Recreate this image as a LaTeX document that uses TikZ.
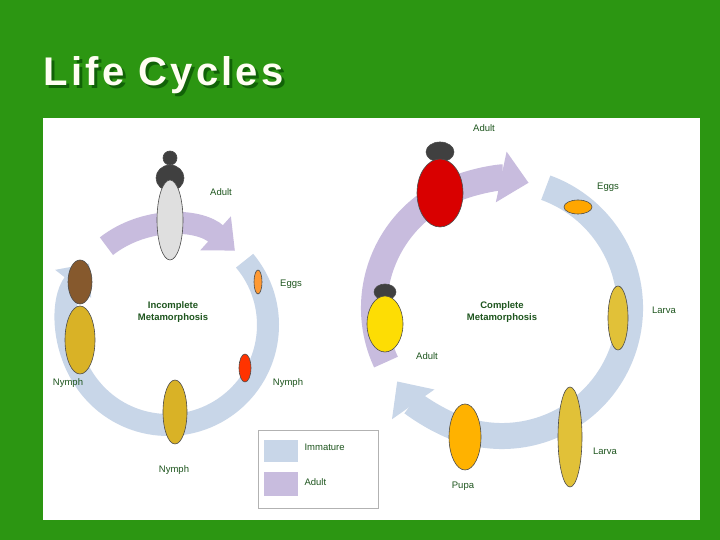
\documentclass[tikz,border=0pt]{standalone}
\usepackage{fontspec}
\setmainfont{Liberation Sans}
\newfontfamily\titlefont[LetterSpace=8]{Liberation Sans}
\usetikzlibrary{arrows.meta}
\definecolor{slidegreen}{RGB}{44,150,18}
\definecolor{immature}{RGB}{200,214,232}
\definecolor{adultc}{RGB}{200,188,222}
\definecolor{labelgreen}{RGB}{30,85,30}
\tikzset{
  lbl/.style={text=labelgreen,font=\fontsize{9.5}{11}\selectfont},
  ttl/.style={text=labelgreen,font=\bfseries\fontsize{9.5}{11.5}\selectfont,align=center},
  bug/.style={draw=black!70,line width=0.6pt},
  titlestyle/.style={anchor=west,font=\titlefont\bfseries\fontsize{40}{46}\selectfont},
}
\begin{document}
\begin{tikzpicture}[x=1pt,y=1pt]
\useasboundingbox (0,0) rectangle (720,540);
\fill[slidegreen] (0,0) rectangle (720,540);
\fill[white] (43,20) rectangle (700,422);
% title
\node[titlestyle,text=green!25!black,opacity=0.6] (titleshadow) at (43,462) {Life Cycles};
\node[titlestyle,text=white!95!yellow] (title) at (40,465) {Life Cycles};

% incomplete ring
\draw[immature,line width=22pt,-{Triangle[width=44pt,length=26pt]}]
  (168,215) ++(40:100) arc (40:-218:100);
\draw[adultc,line width=22pt,-{Triangle[width=44pt,length=26pt]}]
  (168,215) ++(128:100) arc (128:48:100);
% complete ring
\draw[adultc,line width=26pt,-{Triangle[width=50pt,length=28pt]}]
  (502,232) ++(205:128) arc (205:78:128);
\draw[immature,line width=26pt,-{Triangle[width=50pt,length=28pt]}]
  (502,232) ++(70:128) arc (70:-145:128);

% bugs
\filldraw[bug,fill=black!75] (170,382) circle (7);
\filldraw[bug,fill=black!75] (170,362) ellipse (14 and 13);
\filldraw[bug,fill=gray!25] (170,320) ellipse (13 and 40);
\filldraw[bug,fill=brown!70!black] (80,258) ellipse (12 and 22);
\filldraw[bug,fill=brown!60!yellow] (80,200) ellipse (15 and 34);
\filldraw[bug,fill=brown!60!yellow] (175,128) ellipse (12 and 32);
\filldraw[bug,fill=red!60!orange] (245,172) ellipse (6 and 14);
\filldraw[bug,fill=orange!80] (258,258) ellipse (4 and 12);
\filldraw[bug,fill=black!75] (440,388) ellipse (14 and 10);
\filldraw[bug,fill=red!85!black] (440,347) ellipse (23 and 34);
\filldraw[bug,fill=black!75] (385,248) ellipse (11 and 8);
\filldraw[bug,fill=yellow!80!orange] (385,216) ellipse (18 and 28);
\filldraw[bug,fill=orange!70!yellow] (578,333) ellipse (14 and 7);
\filldraw[bug,fill=yellow!50!brown] (618,222) ellipse (10 and 32);
\filldraw[bug,fill=yellow!50!brown] (570,103) ellipse (12 and 50);
\filldraw[bug,fill=orange!60!yellow] (465,103) ellipse (16 and 33);

% labels
\node[lbl] (adultL) at (221,348) {Adult};
\node[lbl] (eggsL) at (291,256) {Eggs};
\node[lbl] (nymphR) at (288,157) {Nymph};
\node[lbl] (nymphB) at (174,70) {Nymph};
\node[lbl] (nymphL) at (68,157) {Nymph};
\node[ttl] (incomplete) at (173,228) {Incomplete\\Metamorphosis};
\node[ttl] (complete) at (502,228) {Complete\\Metamorphosis};
\node[lbl] (adultT) at (484,412) {Adult};
\node[lbl] (eggsR) at (608,353) {Eggs};
\node[lbl] (larvaR) at (664,230) {Larva};
\node[lbl] (adultM) at (427,184) {Adult};
\node[lbl] (larvaB) at (605,89) {Larva};
\node[lbl] (pupa) at (463,54) {Pupa};

% legend
\draw[gray!60,fill=white] (258,110) rectangle (378,32);
\fill[immature] (264,100) rectangle (298,78);
\fill[adultc] (264,68) rectangle (298,44);
\node[lbl,anchor=west] (immLeg) at (301,93) {Immature};
\node[lbl,anchor=west] (adLeg) at (301,58) {Adult};
\end{tikzpicture}
\end{document}
